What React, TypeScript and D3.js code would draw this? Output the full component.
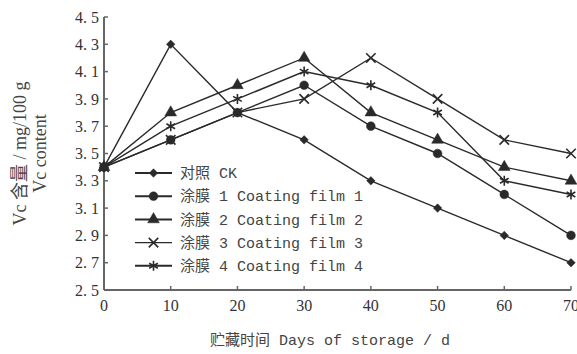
import React from 'react'
import * as d3 from 'd3'

const days = [0, 10, 20, 30, 40, 50, 60, 70]
const ck = [3.4, 4.3, 3.8, 3.6, 3.3, 3.1, 2.9, 2.7]
const film1 = [3.4, 3.6, 3.8, 4.0, 3.7, 3.5, 3.2, 2.9]
const film2 = [3.4, 3.8, 4.0, 4.2, 3.8, 3.6, 3.4, 3.3]
const film3 = [3.4, 3.6, 3.8, 3.9, 4.2, 3.9, 3.6, 3.5]
const film4 = [3.4, 3.7, 3.9, 4.1, 4.0, 3.8, 3.3, 3.2]
const yTicks = [2.5, 2.7, 2.9, 3.1, 3.3, 3.5, 3.7, 3.9, 4.1, 4.3, 4.5]
const labels = ['对照 CK', '涂膜 1 Coating film 1', '涂膜 2 Coating film 2', '涂膜 3 Coating film 3', '涂膜 4 Coating film 4']

const series = [
  { name: labels[0], values: ck, symbol: d3.symbolSquare, size: 36, fill: true, rot: 45 },
  { name: labels[1], values: film1, symbol: d3.symbolCircle, size: 60, fill: true, rot: 0 },
  { name: labels[2], values: film2, symbol: d3.symbolTriangle, size: 60, fill: true, rot: 0 },
  { name: labels[3], values: film3, symbol: d3.symbolTimes, size: 60, fill: false, rot: 0 },
  { name: labels[4], values: film4, symbol: d3.symbolAsterisk, size: 70, fill: false, rot: 0 },
]

const W = 577
const H = 354
const margin = { top: 17, right: 6, bottom: 64, left: 104 }
const ink = '#2a2a2a'
const axisColor = '#666'
const serif = '"Liberation Serif", "Noto Sans CJK SC", serif'
const mono = '"Liberation Mono", "Noto Sans CJK SC", monospace'

const App = () => {
  const x = d3.scaleLinear().domain([0, 70]).range([margin.left, W - margin.right])
  const y = d3.scaleLinear().domain([2.5, 4.5]).range([H - margin.bottom, margin.top])
  const line = d3
    .line<number>()
    .x((d, i) => x(days[i]))
    .y((d) => y(d))

  const x0 = x(0)
  const y0 = y(2.5)
  const marker = (s, cx, cy, key) => (
    <path
      key={key}
      transform={`translate(${cx},${cy}) rotate(${s.rot})`}
      d={d3.symbol(s.symbol, s.size)() || ''}
      fill={s.fill ? ink : 'none'}
      stroke={ink}
      strokeWidth={s.fill ? 0.5 : 1.6}
    />
  )

  return (
    <div style={{ position: 'absolute', left: 0, top: 0 }}>
      <svg width={W} height={H} style={{ display: 'block', background: '#fff' }}>
        {/* axes */}
        <line x1={x0} x2={x0} y1={y(4.5)} y2={y0} stroke={axisColor} strokeWidth={2} />
        <line x1={x0} x2={x(70)} y1={y0} y2={y0} stroke={axisColor} strokeWidth={2} />
        {yTicks.map((t) => (
          <g key={t}>
            <line x1={x0} x2={x0 + 4} y1={y(t)} y2={y(t)} stroke={axisColor} strokeWidth={1.5} />
            <text
              x={x0 - 5}
              y={y(t)}
              dy='0.35em'
              textAnchor='end'
              fontFamily={serif}
              fontSize={16}
              fill='#333'
            >
              {t.toFixed(1).replace('.', '. ')}
            </text>
          </g>
        ))}
        {days.map((t) => (
          <g key={t}>
            <line x1={x(t)} x2={x(t)} y1={y0} y2={y0 - 4} stroke={axisColor} strokeWidth={1.5} />
            <text x={x(t)} y={y0 + 21} textAnchor='middle' fontFamily={serif} fontSize={16} fill='#333'>
              {t}
            </text>
          </g>
        ))}

        {/* lines and markers */}
        {series.map((s) => (
          <g key={s.name}>
            <path d={line(s.values) || ''} fill='none' stroke={ink} strokeWidth={1.4} />
            {s.values.map((v, i) => marker(s, x(days[i]), y(v), i))}
          </g>
        ))}

        {/* legend */}
        {series.map((s, i) => {
          const ly = 173 + i * 23.2
          return (
            <g key={s.name}>
              <line x1={135} x2={172} y1={ly} y2={ly} stroke={ink} strokeWidth={i === 3 ? 1.4 : 2} />
              {marker(s, 153.5, ly, 'm')}
              <text x={180} y={ly} dy='0.35em' fontFamily={mono} fontSize={15} fill='#444'>
                {s.name}
              </text>
            </g>
          )
        })}

        {/* axis titles */}
        <text x={330} y={345} textAnchor='middle' fontFamily={mono} fontSize={15} fill='#444'>
          贮藏时间 Days of storage / d
        </text>
        <text
          transform={`translate(26,${(y(4.5) + y0) / 2}) rotate(-90)`}
          textAnchor='middle'
          fontFamily={serif}
          fontSize={18}
          fill='#444'
        >
          Vc 含量 / mg/100 g
        </text>
        <text
          transform={`translate(46,${(y(4.5) + y0) / 2}) rotate(-90)`}
          textAnchor='middle'
          fontFamily={serif}
          fontSize={18}
          fill='#444'
        >
          Vc content
        </text>
      </svg>
    </div>
  )
}

export default App
